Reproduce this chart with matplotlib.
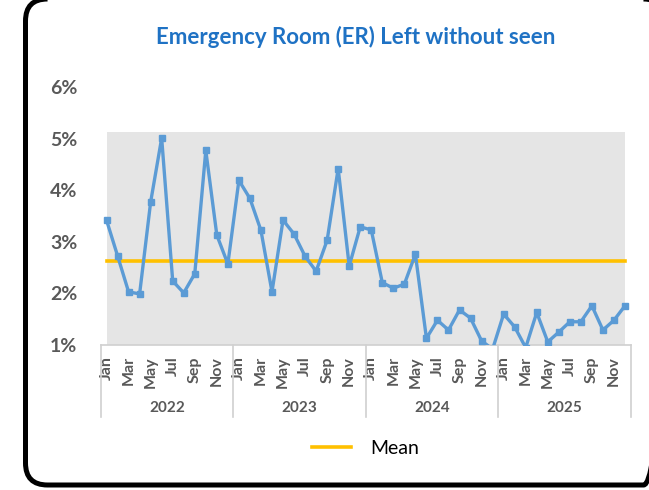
import matplotlib.pyplot as plt
from matplotlib.patches import FancyBboxPatch
from matplotlib.transforms import blended_transform_factory

plt.rcParams["font.family"] = ["Lato", "DejaVu Sans"]

years = ["2022", "2023", "2024", "2025"]
months = ["Jan", "Feb", "Mar", "Apr", "May", "Jun",
          "Jul", "Aug", "Sep", "Oct", "Nov", "Dec"]
lwbs_pct = [
    3.42, 2.73, 2.03, 1.99, 3.77, 5.01, 2.24, 2.01, 2.38, 4.77, 3.13, 2.57,
    4.19, 3.84, 3.22, 2.03, 3.42, 3.15, 2.72, 2.43, 3.03, 4.42, 2.53, 3.29,
    3.23, 2.21, 2.10, 2.18, 2.76, 1.13, 1.48, 1.29, 1.68, 1.52, 1.08, 0.92,
    1.60, 1.35, 0.95, 1.63, 1.06, 1.25, 1.45, 1.45, 1.76, 1.29, 1.48, 1.76,
]
mean_pct = 2.63
band_top = 5.12
y_ticks = [1, 2, 3, 4, 5, 6]

n = len(lwbs_pct)
x = list(range(n))

fig = plt.figure(figsize=(6.49, 4.9), dpi=100)

# rounded chart frame in pixel units (right side runs off the image)
bg = fig.add_axes([0, 0, 1, 1])
bg.set_xlim(0, 649)
bg.set_ylim(490, 0)
bg.axis("off")
frame = FancyBboxPatch((25.5, -1), 640, 486,
                       boxstyle="round,pad=0,rounding_size=22",
                       fill=False, edgecolor="black", linewidth=3.6)
bg.add_patch(frame)

ax = fig.add_axes([101 / 649, 1 - 345 / 490, 529.5 / 649, 258 / 490])
ax.set_xlim(-0.5, n - 0.5)
ax.set_ylim(1, 6)

ax.fill_between(x, 1, [band_top] * n, color="#e5e5e5", linewidth=0, zorder=1)
ax.plot(x, [mean_pct] * n, color="#ffc000", linewidth=2.6, zorder=2, label="Mean")
ax.plot(x, lwbs_pct, color="#5b9bd5", linewidth=2.4, marker="s",
        markersize=5, zorder=3)

for side in ["top", "right", "left"]:
    ax.spines[side].set_visible(False)
ax.spines["bottom"].set_color("#d0d0d0")
ax.spines["bottom"].set_linewidth(1.2)

ax.set_yticks(y_ticks)
ax.set_yticklabels([f"{v}%" for v in y_ticks], fontsize=14,
                   fontweight="bold", color="#595959")
ax.tick_params(axis="y", length=0, pad=17)

ax.set_xticks(x[::2])
ax.set_xticklabels([months[i % 12] for i in x[::2]], rotation=90,
                   fontsize=11.5, fontweight="bold", color="#595959")
ax.tick_params(axis="x", length=0, pad=8)

trans = blended_transform_factory(ax.transData, ax.transAxes)
for k in range(len(years) + 1):
    ax.plot([k * 12 - 0.5] * 2, [0, -0.28], transform=trans,
            color="#d0d0d0", linewidth=1.2, clip_on=False)
for k, yr in enumerate(years):
    ax.text(k * 12 + 5.5, -0.245, yr, transform=trans, ha="center",
            va="center", fontsize=11, fontweight="bold", color="#595959")

fig.text(356 / 649, 1 - 37 / 490, "Emergency Room (ER) Left without seen",
         ha="center", va="center", fontsize=16, fontweight="bold",
         color="#1f72c4")

fig.legend(loc="center", bbox_to_anchor=(366 / 649, 1 - 448 / 490),
           frameon=False, fontsize=14, handlelength=2.0, handletextpad=1.0)

fig.savefig("out.png", dpi=100)
